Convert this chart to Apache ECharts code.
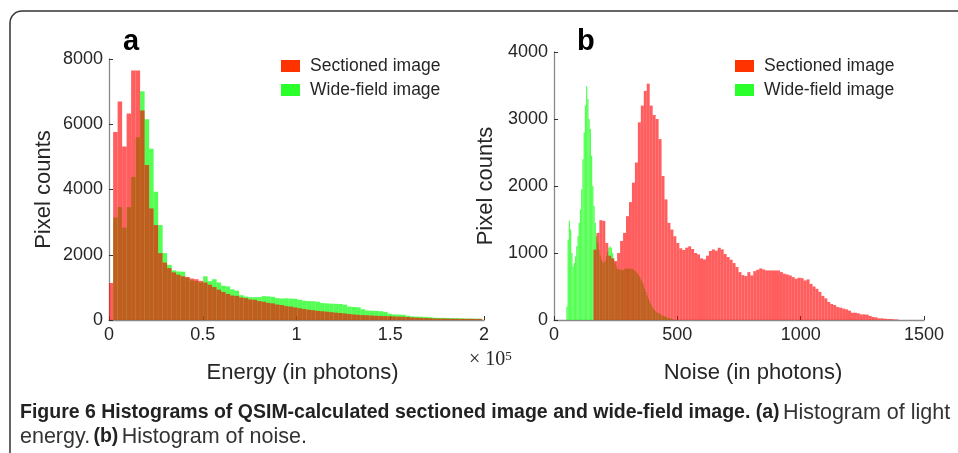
<!DOCTYPE html>
<html>
<head>
<meta charset="utf-8">
<title>QSIM histograms</title>
<script src="https://cdn.jsdelivr.net/npm/echarts@6/dist/echarts.min.js"></script>
<style>
  html, body { margin: 0; padding: 0; background: #fff; }
  #main { width: 958px; height: 453px; }
</style>
</head>
<body>
<div id="main"></div>
<script>
// (a) light energy histogram: bins of 2400 photons, first bin starts at -200
var energyStart = -200;
var energyBin = 2400;
var energySectioned = [1135, 5760, 6700, 5320, 6330, 7650, 7650, 6420, 4750, 3420,
  2910, 2050, 1760, 1590, 1460, 1390, 1340, 1320, 1270, 1250,
  1200, 1150, 1080, 1010, 930, 860, 800, 750, 740, 690,
  670, 630, 620, 580, 560, 525, 510, 475, 460, 425,
  410, 385, 360, 335, 315, 300, 280, 268, 255, 240,
  225, 215, 200, 185, 170, 160, 150, 145, 137, 130,
  125, 120, 115, 110, 103, 100, 90, 80, 72, 67,
  60, 55, 47, 45, 43, 42, 40, 38, 37, 36, 35, 34, 33];
var energyWide = [0, 3140, 3460, 2830, 3460, 4380, 5600, 7010, 6150, 5250,
  3930, 2910, 2050, 1690, 1520, 1490, 1480, 1300, 1215, 1195,
  1150, 1340, 1190, 1250, 1150, 1050, 1030, 940, 900, 760,
  720, 700, 700, 700, 730, 725, 710, 670, 660, 665,
  655, 650, 620, 590, 580, 575, 560, 520, 510, 500,
  495, 490, 470, 410, 400, 390, 330, 290, 285, 280,
  270, 250, 190, 170, 165, 160, 130, 110, 105, 100,
  95, 85, 70, 65, 65, 60, 55, 55, 50, 45, 45, 40, 40];
var energyTicks = [0, 50000, 100000, 150000, 200000];
var energyTickLabels = ['0', '0.5', '1', '1.5', '2'];

// (b) noise histogram
var noiseSectionedStart = 160;
var noiseSectionedBin = 12;
var noiseSectioned = [1050, 1300, 1490, 1480, 1150, 960, 920, 880, 1000, 1180,
  1300, 1550, 1760, 2050, 2350, 2950, 3200, 3420, 3527, 3200,
  3060, 3000, 2700, 2150, 1800, 1450, 1350, 1250, 1150, 1070,
  1045, 1080, 1100, 1060, 1000, 980, 920, 905, 960, 1030,
  1054, 1035, 1078, 1054, 985, 940, 900, 850, 790, 715,
  670, 656, 715, 666, 730, 750, 770, 755, 740, 740,
  740, 740, 740, 715, 690, 680, 665, 640, 616, 631,
  625, 591, 606, 540, 500, 465, 420, 360, 323, 270,
  240, 224, 195, 184, 170, 159, 140, 109, 109, 100,
  84, 84, 80, 60, 45, 40, 25, 25, 20, 15, 15, 10, 8];
var noiseWideStart = 50;
var noiseWideBin = 5;
var noiseWide = [200, 1200, 1480, 1350, 1000, 800, 850, 950, 1100, 1250,
  1450, 1650, 1950, 2400, 2800, 3200, 3490, 3300, 3000, 2850,
  2450, 2000, 1700, 1450, 1250, 1150, 1050, 960, 900, 870,
  850, 880, 950, 1020, 1080, 1100, 1080, 1000, 920, 850,
  800, 760, 760, 750, 750, 740, 750, 760, 770, 770,
  765, 760, 770, 760, 750, 740, 720, 700, 670, 640,
  610, 570, 530, 470, 420, 370, 320, 280, 240, 200,
  175, 150, 130, 115, 105, 95, 85, 70, 60, 55,
  50, 40, 35, 30, 25, 20, 15];
var noiseTicks = [0, 500, 1000, 1500];

var seriesNames = ['Sectioned image', 'Wide-field image'];

function toBins(start, width, counts) {
  return counts.map(function (c, i) {
    return [start + i * width, start + (i + 1) * width, c];
  });
}

function barRenderer(fill) {
  return function (params, api) {
    var lo = api.coord([api.value(0), 0]);
    var hi = api.coord([api.value(1), api.value(2)]);
    return {
      type: 'rect',
      shape: { x: lo[0], y: hi[1], width: hi[0] - lo[0], height: lo[1] - hi[1] },
      style: { fill: fill }
    };
  };
}

var font = 'Liberation Sans, Arial, sans-serif';
var textColor = '#262626';
var redFill = 'rgba(255,0,0,0.63)';
var greenFill = 'rgba(0,255,0,0.68)';

function axisBase(extra) {
  var base = {
    type: 'value',
    splitLine: { show: false },
    axisLine: { show: true, lineStyle: { color: '#8a8a8a', width: 1.3 } },
    axisTick: { show: true, inside: true, length: 4, lineStyle: { color: '#333' } },
    axisLabel: {
      fontSize: 18, color: textColor, fontFamily: font, margin: 6,
      formatter: function (v) { return String(v); }
    },
    nameLocation: 'middle',
    nameTextStyle: { fontSize: 22, color: textColor, fontFamily: font }
  };
  for (var k in extra) base[k] = extra[k];
  return base;
}

var legendBase = {
  data: seriesNames,
  orient: 'vertical',
  top: 57,
  padding: 0,
  icon: 'rect',
  itemWidth: 19,
  itemHeight: 12,
  itemGap: 6,
  selectedMode: false,
  textStyle: { fontSize: 17.5, lineHeight: 18, color: textColor, fontFamily: font, padding: [0, 0, 0, 5] }
};

var myChart = echarts.init(document.getElementById('main'));
var option = {
  animation: false,
  backgroundColor: '#fff',
  grid: [
    { left: 109, top: 59, width: 375, height: 261 },
    { left: 554, top: 52, width: 370, height: 268 }
  ],
  legend: [
    Object.assign({}, legendBase, { left: 281 }),
    Object.assign({}, legendBase, { left: 735 })
  ],
  xAxis: [
    axisBase({
      gridIndex: 0, min: 0, max: 200000, interval: 50000,
      name: 'Energy (in photons)', nameGap: 42,
      nameTextStyle: { fontSize: 22, color: textColor, fontFamily: font, padding: [0, 0, 0, 12] },
      axisLabel: {
        fontSize: 18, color: textColor, fontFamily: font, margin: 6,
        formatter: function (v) { return energyTickLabels[energyTicks.indexOf(v)]; }
      }
    }),
    axisBase({
      gridIndex: 1, min: 0, max: 1500, interval: 500,
      name: 'Noise (in photons)', nameGap: 42,
      nameTextStyle: { fontSize: 22, color: textColor, fontFamily: font, padding: [0, 0, 0, 28] },
      axisLabel: {
        fontSize: 18, color: textColor, fontFamily: font, margin: 6,
        formatter: function (v) { return noiseTicks.indexOf(v) >= 0 ? String(v) : ''; }
      }
    })
  ],
  yAxis: [
    axisBase({ gridIndex: 0, min: 0, max: 8000, interval: 2000, name: 'Pixel counts', nameGap: 54 }),
    axisBase({ gridIndex: 1, min: 0, max: 4000, interval: 1000, name: 'Pixel counts', nameGap: 57 })
  ],
  series: [
    {
      type: 'custom', name: seriesNames[1], xAxisIndex: 0, yAxisIndex: 0, clip: true,
      itemStyle: { color: '#2bff2b' }, encode: { x: [0, 1], y: 2 },
      renderItem: barRenderer(greenFill), data: toBins(energyStart, energyBin, energyWide)
    },
    {
      type: 'custom', name: seriesNames[0], xAxisIndex: 0, yAxisIndex: 0, clip: true,
      itemStyle: { color: '#ff3300' }, encode: { x: [0, 1], y: 2 },
      renderItem: barRenderer(redFill), data: toBins(energyStart, energyBin, energySectioned)
    },
    {
      type: 'custom', name: seriesNames[1], xAxisIndex: 1, yAxisIndex: 1, clip: true,
      itemStyle: { color: '#2bff2b' }, encode: { x: [0, 1], y: 2 },
      renderItem: barRenderer(greenFill), data: toBins(noiseWideStart, noiseWideBin, noiseWide)
    },
    {
      type: 'custom', name: seriesNames[0], xAxisIndex: 1, yAxisIndex: 1, clip: true,
      itemStyle: { color: '#ff3300' }, encode: { x: [0, 1], y: 2 },
      renderItem: barRenderer(redFill), data: toBins(noiseSectionedStart, noiseSectionedBin, noiseSectioned)
    }
  ],
  graphic: [
    {
      type: 'rect', silent: true,
      shape: { x: 10, y: 11, width: 1000, height: 500, r: 12 },
      style: { fill: 'none', stroke: '#333', lineWidth: 1.5 }
    },
    { type: 'text', x: 123, y: 42, style: { text: 'a', font: 'bold 29px ' + font, fill: '#000', verticalAlign: 'middle' } },
    { type: 'text', x: 577, y: 42, style: { text: 'b', font: 'bold 29px ' + font, fill: '#000', verticalAlign: 'middle' } },
    {
      type: 'text', x: 469, y: 350,
      style: {
        text: '× 10{sup|5}', fill: textColor, font: '20px Liberation Serif, serif',
        rich: { sup: { fontSize: 13, fontFamily: 'Liberation Serif', verticalAlign: 'top', lineHeight: 20 } }
      }
    },
    {
      type: 'text', x: 20, y: 413,
      style: {
        text: '{b|Figure 6 Histograms of QSIM-calculated sectioned image and wide-field image. (a)} {n|Histogram of light}',
        verticalAlign: 'middle', fill: '#222',
        rich: {
          b: { fontSize: 19.5, fontWeight: 'bold', fontFamily: font, fill: '#222' },
          n: { fontSize: 21.5, fontFamily: font, fill: '#333' }
        }
      }
    },
    {
      type: 'text', x: 20, y: 437,
      style: {
        text: '{n|energy.} {b|(b)} {n|Histogram of noise.}',
        verticalAlign: 'middle', fill: '#222',
        rich: {
          b: { fontSize: 19.5, fontWeight: 'bold', fontFamily: font, fill: '#222' },
          n: { fontSize: 21.5, fontFamily: font, fill: '#333' }
        }
      }
    }
  ]
};
myChart.setOption(option);
</script>
</body>
</html>
